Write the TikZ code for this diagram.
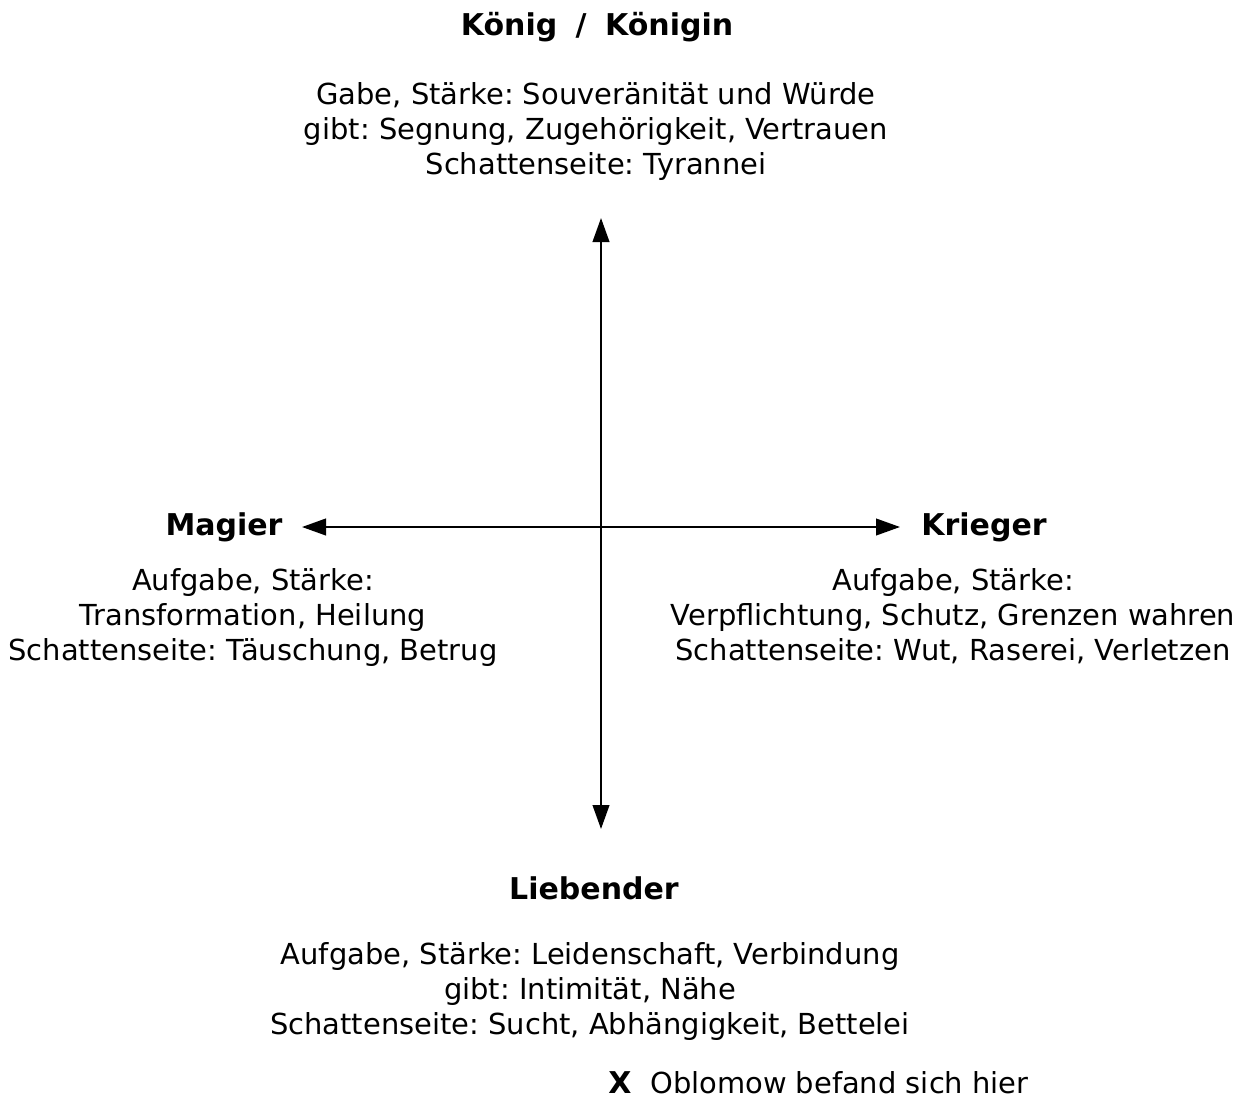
\documentclass[tikz,border=0pt]{standalone}
\usepackage{fontspec}
\setmainfont{DejaVu Sans}
\usetikzlibrary{arrows.meta}
\frenchspacing

\tikzset{
    archetyp/.style={font=\fontsize{22.5}{28}\selectfont\bfseries, inner sep=0pt},
    merkmal/.style={font=\fontsize{21.7}{26.25}\selectfont, align=center, inner sep=0pt},
    achse/.style={line width=1.5pt, {Triangle[length=18pt,width=12.5pt]}-{Triangle[length=18pt,width=12.5pt]}}
}

\begin{document}
\begin{tikzpicture}[x=0.75pt, y=-0.75pt]
    \useasboundingbox (0,0) rectangle (1242,1103);
    % Achsen
    \coordinate (oben) at (601,218);
    \coordinate (unten) at (601,829);
    \coordinate (links) at (302,527);
    \coordinate (rechts) at (900,527);
    \draw[achse] (oben) -- (unten);
    \draw[achse] (links) -- (rechts);
    % Koenig
    \node[archetyp] (koenig) at (597,27) {König\hspace{6pt} /\hspace{6pt} Königin};
    \node[merkmal, anchor=north] (koenigtext) at (596,82) {Gabe, Stärke: Souveränität und Würde\\gibt: Segnung, Zugehörigkeit, Vertrauen\\Schattenseite: Tyrannei};
    % Magier
    \node[archetyp] (magier) at (224,527) {Magier};
    \node[merkmal, anchor=north] (magiertext) at (253,568) {Aufgabe, Stärke:\\Transformation, Heilung\\Schattenseite: Täuschung, Betrug};
    % Krieger
    \node[archetyp] (krieger) at (984,527) {Krieger};
    \node[merkmal, anchor=north] (kriegertext) at (953,568) {Aufgabe, Stärke:\\Verpflichtung, Schutz, Grenzen wahren\\Schattenseite: Wut, Raserei, Verletzen};
    % Liebender
    \node[archetyp] (liebender) at (594,888) {Liebender};
    \node[merkmal, anchor=north] (liebendertext) at (590,942) {Aufgabe, Stärke: Leidenschaft, Verbindung\\gibt: Intimität, Nähe\\Schattenseite: Sucht, Abhängigkeit, Bettelei};
    % Legende
    \node[archetyp, anchor=base] (marke) at (620,1093) {X};
    \node[merkmal, anchor=base west] (legende) at (650,1093) {Oblomow befand sich hier};
\end{tikzpicture}
\end{document}
